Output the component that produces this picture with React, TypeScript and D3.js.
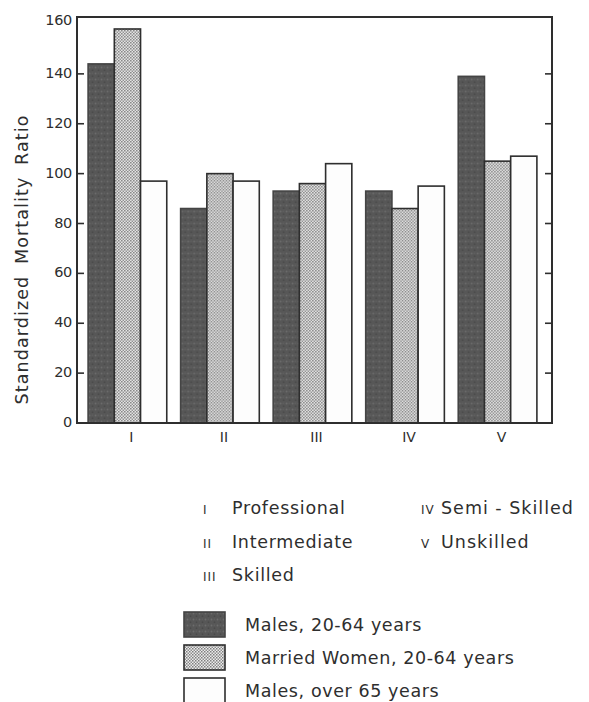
import React from "react";
import * as d3 from "d3";

const categories = ["I", "II", "III", "IV", "V"];
const seriesKeys = ["males2064", "women2064", "males65"];
const seriesLabels = ["Males, 20-64 years", "Married  Women, 20-64 years", "Males,  over  65 years"];
const males2064 = [144, 86, 93, 93, 139];
const women2064 = [158, 100, 96, 86, 105];
const males65 = [97, 97, 104, 95, 107];
const yTicks = [0, 20, 40, 60, 80, 100, 120, 140, 160];
const classCodes = ["I", "II", "III", "IV", "V"];
const classNames = ["Professional", "Intermediate", "Skilled", "Semi - Skilled", "Unskilled"];

const W = 589;
const H = 702;
const frame = { left: 77, right: 552, top: 17, bottom: 423 };
const ink = "#2e2e2e";
const font = "'DejaVu Sans', sans-serif";
const fills = ["url(#darkPat)", "url(#dotPat)", "#fdfdfd"];

export default function App() {
  const values = [males2064, women2064, males65];
  const y = d3.scaleLinear().domain([0, 160]).range([frame.bottom, 24]);
  const x0 = d3.scaleBand<string>().domain(categories).range([77, 548]).paddingInner(0.15).paddingOuter(0.12);
  const x1 = d3.scaleBand<string>().domain(seriesKeys).range([0, x0.bandwidth()]);

  const legendRowsLeft = [0, 1, 2];
  const legendRowsRight = [3, 4];
  const rowY = d3.scaleLinear().domain([0, 1]).range([514, 547.5]);
  const boxY = d3.scaleLinear().domain([0, 1]).range([612, 645]);

  return (
    <svg width={W} height={H} style={{ position: "absolute", left: 0, top: 0, background: "#fff" }}>
      <defs>
        <pattern id="darkPat" width="6" height="6" patternUnits="userSpaceOnUse">
          <rect width="6" height="6" fill="#575757" />
          <circle cx="1.5" cy="1.5" r="0.9" fill="#6c6c6c" />
          <circle cx="4.5" cy="4.2" r="0.9" fill="#4a4a4a" />
          <circle cx="4.3" cy="1.2" r="0.6" fill="#636363" />
        </pattern>
        <pattern id="dotPat" width="3" height="3" patternUnits="userSpaceOnUse">
          <rect width="3" height="3" fill="#ececec" />
          <rect x="0" y="0" width="1.5" height="1.5" fill="#7e7e7e" />
          <rect x="1.5" y="1.5" width="1.5" height="1.5" fill="#8e8e8e" />
        </pattern>
      </defs>

      {/* bars */}
      {categories.map((c, ci) => (
        <g key={c} transform={`translate(${x0(c)},0)`}>
          {seriesKeys.map((k, si) => {
            const v = values[si][ci];
            return (
              <rect
                key={k}
                x={x1(k)}
                y={y(v)}
                width={x1.bandwidth()}
                height={y(0) - y(v)}
                fill={fills[si]}
                stroke={si === 0 ? "#444" : ink}
                strokeWidth={1.6}
              />
            );
          })}
        </g>
      ))}

      {/* frame */}
      <rect
        x={frame.left}
        y={frame.top}
        width={frame.right - frame.left}
        height={frame.bottom - frame.top}
        fill="none"
        stroke={ink}
        strokeWidth={2}
      />

      {/* y ticks */}
      {yTicks.map((t) => (
        <g key={t}>
          {t > 0 && t < 160 && (
            <>
              <line x1={frame.left} x2={frame.left + 7} y1={y(t)} y2={y(t)} stroke={ink} strokeWidth={1.6} />
              <line x1={frame.right} x2={frame.right - 7} y1={y(t)} y2={y(t)} stroke={ink} strokeWidth={1.6} />
            </>
          )}
          <text
            x={frame.left - 5}
            y={t === 160 ? frame.top + 4 : y(t)}
            textAnchor="end"
            dominantBaseline="middle"
            fontFamily={font}
            fontSize={14.5}
            fill={ink}
            letterSpacing={-0.3}
          >
            {t}
          </text>
        </g>
      ))}

      {/* x labels */}
      {categories.map((c) => (
        <text
          key={c}
          x={(x0(c) as number) + x0.bandwidth() / 2 + 4}
          y={438}
          textAnchor="middle"
          dominantBaseline="middle"
          fontFamily={font}
          fontSize={14}
          fill={ink}
        >
          {c}
        </text>
      ))}

      {/* y axis title */}
      <text
        transform={`translate(28,${(115 + 404) / 2}) rotate(-90)`}
        textAnchor="middle"
        fontFamily={font}
        fontSize={17.5}
        fill={ink}
        letterSpacing={1.1}
        wordSpacing={5}
      >
        Standardized Mortality Ratio
      </text>

      {/* class legend */}
      {legendRowsLeft.map((i, r) => (
        <g key={i}>
          <text x={203} y={rowY(r)} fontFamily={font} fontSize={12} fill={ink} letterSpacing={1}>
            {classCodes[i]}
          </text>
          <text x={232} y={rowY(r)} fontFamily={font} fontSize={17.5} fill={ink} letterSpacing={0.7}>
            {classNames[i]}
          </text>
        </g>
      ))}
      {legendRowsRight.map((i, r) => (
        <g key={i}>
          <text x={421} y={rowY(r)} fontFamily={font} fontSize={12} fill={ink} letterSpacing={1}>
            {classCodes[i]}
          </text>
          <text x={441} y={rowY(r)} fontFamily={font} fontSize={17.5} fill={ink} letterSpacing={1}>
            {classNames[i]}
          </text>
        </g>
      ))}

      {/* series legend */}
      {seriesKeys.map((k, i) => (
        <g key={k}>
          <rect x={184} y={boxY(i)} width={41} height={25} fill={fills[i]} stroke={i === 0 ? "#444" : ink} strokeWidth={1.6} />
          <text x={245} y={boxY(i) + 19} fontFamily={font} fontSize={17.5} fill={ink} letterSpacing={0.6}>
            {seriesLabels[i]}
          </text>
        </g>
      ))}
    </svg>
  );
}
